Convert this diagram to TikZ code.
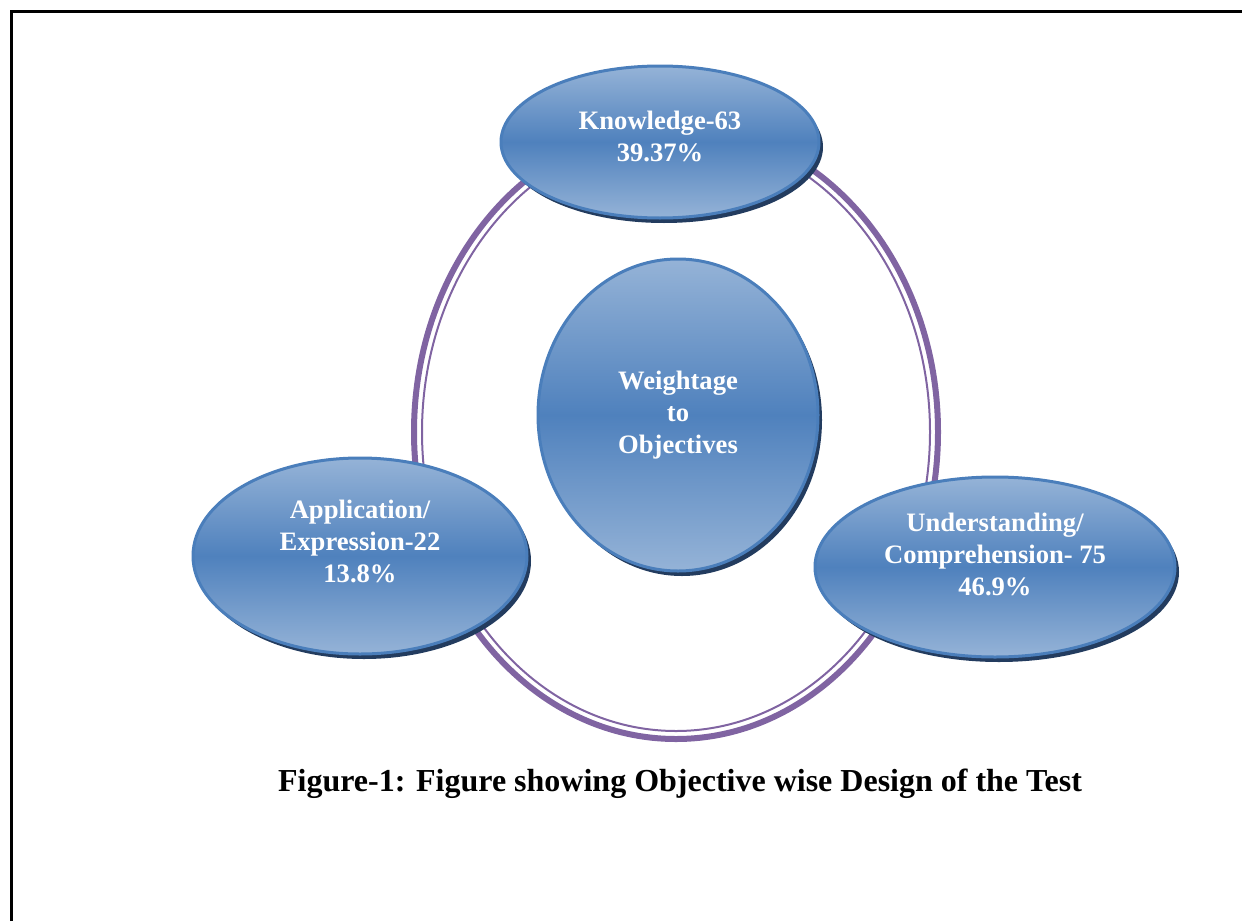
\documentclass[tikz,border=0pt]{standalone}
\usepackage{fontspec}
\setmainfont{Liberation Serif}
\usepackage{xcolor}
\usepackage{tikz}
\usetikzlibrary{shapes,shadows,positioning}

\definecolor{ringpurple}{RGB}{128,100,162}
\definecolor{bluelight}{RGB}{149,179,215}
\definecolor{bluemid}{RGB}{79,129,189}
\definecolor{blueedge}{RGB}{74,126,187}
\definecolor{blueshadow}{RGB}{35,60,95}

\begin{document}
\begin{tikzpicture}[x=0.5pt,y=-0.5pt,
    bubble/.style={draw=blueedge, line width=1.5pt, ellipse, inner sep=0pt,
        top color=bluelight, bottom color=bluelight, middle color=bluemid,
        drop shadow={shadow xshift=2pt, shadow yshift=-2.5pt, fill=blueshadow, opacity=1}},
    txt/.style={align=center, text=white, font=\fontsize{13.3}{16}\selectfont\bfseries}]
        \useasboundingbox (0,0) rectangle (1242,921);
        % frame
        \draw[line width=1.5pt] (11.5,921) -- (11.5,11.5) -- (1242,11.5);
        % ring behind the bubbles
        \draw[ringpurple, line width=3pt] (676,432) ellipse [x radius=262, y radius=307];
        \draw[ringpurple, line width=1pt] (676,432) ellipse [x radius=254, y radius=299];

        \node[bubble, minimum width=159pt, minimum height=76pt] (know) at (660,142) {};
        \node[bubble, minimum width=140pt, minimum height=156pt] (wt) at (678,415) {};
        \node[bubble, minimum width=167pt, minimum height=98pt] (app) at (360,556) {};
        \node[bubble, minimum width=180pt, minimum height=90pt] (und) at (995,567) {};

        \node[txt] (know-t) at ([yshift=3pt]know.center) {Knowledge-63\\39.37\%};
        \node[txt] (wt-t) at (wt.center) {Weightage\\to\\Objectives};
        \node[txt] (app-t) at ([yshift=7.5pt]app.center) {Application/\\Expression-22\\13.8\%};
        \node[txt] (und-t) at ([yshift=6.5pt]und.center) {Understanding/\\Comprehension- 75\\46.9\%};

        \node[font=\fontsize{16}{19}\selectfont\bfseries] (cap) at (680,784)
            {Figure-1: Figure showing Objective wise Design of the Test};
\end{tikzpicture}
\end{document}
